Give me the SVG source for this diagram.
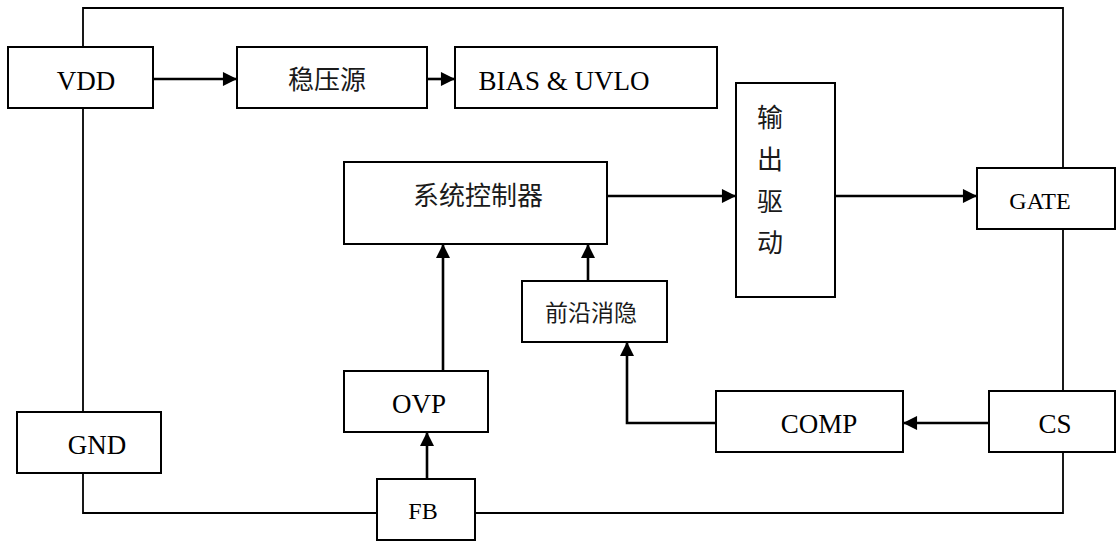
<svg xmlns="http://www.w3.org/2000/svg" width="1116" height="542" viewBox="0 0 1116 542">
<defs>
<marker id="arr" viewBox="0 0 10 10" refX="10" refY="5" markerWidth="6" markerHeight="5.4" markerUnits="strokeWidth" orient="auto">
<path d="M0,0 L10,5 L0,10 Z" fill="#000"/>
</marker>
<style>
.box{fill:#fff;stroke:#000;stroke-width:2}
.wire{fill:none;stroke:#000;stroke-width:1.8}
.arrow{fill:none;stroke:#000;stroke-width:2.6;marker-end:url(#arr)}
.lat{font-family:"Liberation Serif","Times New Roman",serif;font-size:27px;fill:#000;text-anchor:middle}
.sm{font-size:24px}
.cjk{font-family:"Noto Sans CJK SC","Noto Sans",sans-serif;font-size:26px;fill:#1a1a1a;text-anchor:middle}
</style>
</defs>
<rect width="1116" height="542" fill="#fff"/>
<g id="connectors">
<polyline class="wire" points="83,47 83,8 1063,8 1063,168"/>
<line class="wire" x1="1063" y1="229" x2="1063" y2="391"/>
<polyline class="wire" points="1063,452 1063,513 475,513"/>
<polyline class="wire" points="377,513 83,513 83,473"/>
<line class="wire" x1="83" y1="108" x2="83" y2="412"/>
<line class="arrow" x1="153" y1="79" x2="237" y2="79"/>
<line class="arrow" x1="427" y1="79" x2="455" y2="79"/>
<line class="arrow" x1="607" y1="196" x2="736" y2="196"/>
<line class="arrow" x1="835" y1="196" x2="977" y2="196"/>
<line class="arrow" x1="443" y1="371" x2="443" y2="244"/>
<line class="arrow" x1="588" y1="281" x2="588" y2="244"/>
<line class="arrow" x1="427" y1="479" x2="427" y2="432"/>
<polyline class="arrow" points="716,423 627,423 627,342"/>
<line class="arrow" x1="989" y1="423" x2="903" y2="423"/>
</g>
<g id="vdd"><rect class="box" x="8" y="47" width="145" height="61"/><text class="lat" x="86" y="90">VDD</text></g>
<g id="regulator"><rect class="box" x="237" y="47" width="190" height="61"/><text class="cjk" x="327" y="89">稳压源</text></g>
<g id="bias"><rect class="box" x="455" y="47" width="262" height="61"/><text class="lat" x="564" y="90">BIAS &amp; UVLO</text></g>
<g id="driver"><rect class="box" x="736" y="83" width="99" height="214"/>
<text class="cjk" x="770" y="127">输</text><text class="cjk" x="770" y="169">出</text><text class="cjk" x="770" y="211">驱</text><text class="cjk" x="770" y="252">动</text></g>
<g id="gate"><rect class="box" x="977" y="168" width="138" height="61"/><text class="lat sm" x="1040" y="209">GATE</text></g>
<g id="controller"><rect class="box" x="344" y="162" width="263" height="82"/><text class="cjk" x="478" y="205">系统控制器</text></g>
<g id="leb"><rect class="box" x="522" y="281" width="145" height="61"/><text class="cjk" x="591" y="321" style="font-size:23px">前沿消隐</text></g>
<g id="ovp"><rect class="box" x="344" y="371" width="144" height="61"/><text class="lat" x="419" y="413">OVP</text></g>
<g id="comp"><rect class="box" x="716" y="391" width="187" height="61"/><text class="lat" x="819" y="433">COMP</text></g>
<g id="cs"><rect class="box" x="989" y="391" width="126" height="61"/><text class="lat" x="1055" y="433">CS</text></g>
<g id="gnd"><rect class="box" x="17" y="412" width="144" height="61"/><text class="lat" x="97" y="454">GND</text></g>
<g id="fb"><rect class="box" x="377" y="479" width="98" height="61"/><text class="lat sm" x="423" y="519">FB</text></g>
</svg>
